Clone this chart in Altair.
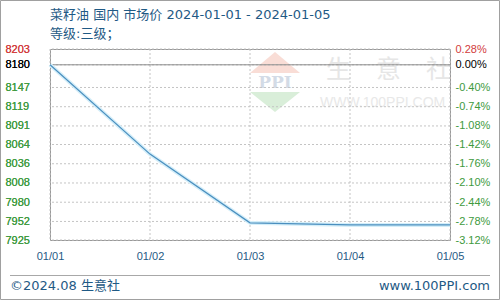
import json
import altair as alt
import pandas as pd

# ---- data ----
dates = ["01/01", "01/02", "01/03", "01/04", "01/05"]
prices = [8180, 8050, 7950, 7947, 7947]
left_ticks = [8203, 8180, 8147, 8119, 8091, 8064, 8036, 8008, 7980, 7952, 7925]
right_labels = ["0.28%", "0.00%", "-0.40%", "-0.74%", "-1.08%", "-1.42%",
                "-1.76%", "-2.10%", "-2.44%", "-2.78%", "-3.12%"]
base_price = 8180
title_line1 = "菜籽油 国内 市场价 2024-01-01 - 2024-01-05"
title_line2 = "等级:三级；"
footer_left = "©2024.08 生意社"
footer_right = "www.100PPI.com"

df = pd.DataFrame({"date": dates, "price": prices})
ticks_df = pd.DataFrame({"v": left_ticks})
dates_df = pd.DataFrame({"date": dates})

W, H = 400, 191
FONT = "Liberation Sans"
TFONT = "DejaVu Sans, Noto Sans CJK SC"
CJK = "Noto Sans CJK SC"
BLUE_TXT = "#1f5a85"
GRID = "#c4c4c4"

label_color = {
    "condition": [
        {"test": f"datum.value == {left_ticks[0]}", "value": "#d23c3c"},
        {"test": f"datum.value == {base_price}", "value": "#000000"},
    ],
    "value": "#3e9a3e",
}

xs = alt.X("date:O", sort=dates,
           scale=alt.Scale(type="point", padding=0),
           axis=alt.Axis(title=None, labelAngle=0, labelColor=BLUE_TXT,
                         labelFont=FONT, labelFontSize=11, labelPadding=10,
                         ticks=False, domain=False, grid=False))

yscale = alt.Scale(domain=[7925, 8203], nice=False, zero=False)

right_expr = (json.dumps(right_labels) + "[indexof(" + json.dumps(left_ticks)
              + ", datum.value)]")

y_left = alt.Y("price:Q", scale=yscale,
               axis=alt.Axis(title=None, values=left_ticks, orient="left",
                             format="d", labelOverlap=False,
                             labelAlign="left", labelPadding=45, labelFont=FONT,
                             labelFontSize=11, labelColor=label_color,
                             ticks=False, domain=False, grid=False,
                             labelBaseline="middle"))
y_right = alt.Y("price:Q", scale=yscale,
                axis=alt.Axis(title=None, values=left_ticks, orient="right",
                              labelOverlap=False,
                              labelAlign="left", labelPadding=5, labelFont=FONT,
                              labelFontSize=11, labelColor=label_color,
                              labelExpr=right_expr,
                              ticks=False, domain=False,
                              grid=False, labelBaseline="middle"))

base = alt.Chart(df)
one = pd.DataFrame({"a": [1]})

# grid lines
hgrid = alt.Chart(ticks_df).mark_rule(color=GRID, strokeDash=[2, 2], strokeWidth=1).encode(
    y=alt.Y("v:Q", scale=yscale, axis=None))
vgrid = alt.Chart(dates_df).mark_rule(color=GRID, strokeDash=[2, 2], strokeWidth=1).encode(
    x=xs)

# watermark
wm_red = alt.Chart(one).mark_point(
    shape="M-1,0L1,0L0,-0.84Z", filled=True, size=2500, color="#f9ddd6", opacity=1
).encode(x=alt.value(225), y=alt.value(24))
wm_green = alt.Chart(one).mark_point(
    shape="M-1,0L1,0L0,0.8Z", filled=True, size=2500, color="#d9eed9", opacity=1
).encode(x=alt.value(225), y=alt.value(43))
wm_ppi = alt.Chart(one).mark_text(
    text="PPI", font="DejaVu Serif", fontSize=17, fontWeight="bold", color="#d3dbe6"
).encode(x=alt.value(225), y=alt.value(34))
wm_name = alt.Chart(one).mark_text(
    text="生　意　社", font=CJK, fontSize=25, color="#e6e6e6", align="left",
    baseline="middle"
).encode(x=alt.value(276), y=alt.value(21))
wm_url = alt.Chart(one).mark_text(
    text="WWW.100PPI.COM", font=FONT, fontSize=14, color="#e8e8e8", align="left",
    baseline="middle"
).encode(x=alt.value(270), y=alt.value(54))

ref = alt.Chart(one).mark_rule(color="#8c8c8c", strokeWidth=1).encode(
    y=alt.Y("b:Q", scale=yscale, axis=None)
).transform_calculate(b=str(base_price))

glow = base.mark_line(color="#d4eef9", strokeWidth=4).encode(x=xs, y=y_left)
line = base.mark_line(color="#4a8fbf", strokeWidth=1.2).encode(x=xs, y=y_left)
line_r = base.mark_line(opacity=0).encode(x=xs, y=y_right)

t1 = alt.Chart(one).mark_text(
    text=title_line1, font=TFONT, fontSize=13, color=BLUE_TXT, align="left",
    baseline="middle").encode(x=alt.value(0), y=alt.value(-34))
t2 = alt.Chart(one).mark_text(
    text=title_line2, font=TFONT, fontSize=13, color=BLUE_TXT, align="left",
    baseline="middle").encode(x=alt.value(0), y=alt.value(-15))

sep = alt.Chart(one).mark_rule(color="#a8a8a8").encode(
    x=alt.value(-40), x2=alt.value(440), y=alt.value(226.5))
f1 = alt.Chart(one).mark_text(
    text=footer_left, font=TFONT, fontSize=13, color=BLUE_TXT, align="left",
    baseline="middle").encode(x=alt.value(-40), y=alt.value(237))
f2 = alt.Chart(one).mark_text(
    text=footer_right, font=TFONT, fontSize=13, color=BLUE_TXT, align="right",
    baseline="middle").encode(x=alt.value(440), y=alt.value(237))
border = alt.Chart(one).mark_rect(filled=False, stroke="#a0a0a0", strokeWidth=1).encode(
    x=alt.value(-49.5), x2=alt.value(449.5), y=alt.value(-48.5), y2=alt.value(250.5))

chart = alt.layer(
    wm_red, wm_green, wm_ppi, wm_name, wm_url, hgrid, vgrid, ref, glow, line, line_r,
    t1, t2, sep, f1, f2, border
).resolve_axis(y="independent").properties(
    width=W, height=H,
    autosize=alt.AutoSizeParams(type="none"),
    padding={"left": 50, "top": 49, "right": 50, "bottom": 60},
    background="white",
).configure_view(stroke="#999999", strokeWidth=1)

chart.save("out.html", embed_options={"renderer": "svg", "actions": False})
